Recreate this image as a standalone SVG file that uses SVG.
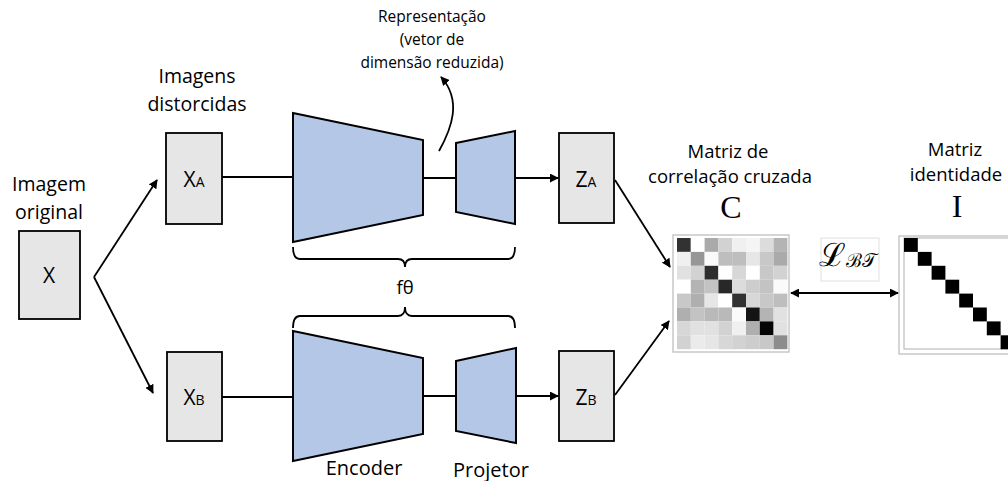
<svg xmlns="http://www.w3.org/2000/svg" width="1008" height="481" viewBox="0 0 1008 481">
<defs>
<marker id="ah" viewBox="0 0 10 10" refX="9" refY="5" markerWidth="5" markerHeight="5" orient="auto-start-reverse" markerUnits="strokeWidth">
<path d="M0,0 L10,5 L0,10 z" fill="#000"/>
</marker>
</defs>
<style>
.box{fill:#e6e6e6;stroke:#000;stroke-width:1.8}
.trap{fill:#b4c7e7;stroke:#000;stroke-width:2}
.ln{fill:none;stroke:#000;stroke-width:1.8}
.t{font-family:"Open Sans",Lato,sans-serif;fill:#000;text-anchor:middle}
.v{font-family:"Open Sans",Lato,sans-serif;fill:#000;text-anchor:middle;font-size:21px}
.v tspan{font-size:14px}
.s{font-family:"Liberation Serif",serif;fill:#000;text-anchor:middle}
</style>
<rect width="1008" height="481" fill="#fff"/>

<g id="labels">
<text class="t" x="49" y="191" font-size="19.5">Imagem</text>
<text class="t" x="49" y="219" font-size="19.5">original</text>
<text class="t" x="197" y="83" font-size="19.5">Imagens</text>
<text class="t" x="197" y="111" font-size="19.5">distorcidas</text>
<text class="t" x="432" y="22" font-size="15.5">Representação</text>
<text class="t" x="432" y="45" font-size="15.5">(vetor de</text>
<text class="t" x="432" y="68" font-size="15.5">dimensão reduzida)</text>
<text class="t" x="405" y="294" font-size="18.5">fθ</text>
<text class="t" x="364" y="475" font-size="20">Encoder</text>
<text class="t" x="491" y="477" font-size="20">Projetor</text>
<text class="t" x="728" y="158" font-size="18.5">Matriz de</text>
<text class="t" x="730" y="183" font-size="18.5">correlação cruzada</text>
<text class="s" x="731" y="218" font-size="32">C</text>
<text class="t" x="955" y="156" font-size="18.5">Matriz</text>
<text class="t" x="956" y="181" font-size="18.5">identidade</text>
<text class="s" x="957" y="217" font-size="32">I</text>
</g>

<g id="node-x">
<rect class="box" x="19" y="231" width="61" height="88"/>
<text class="v" x="49" y="283">X</text>
</g>
<g id="node-xa">
<rect class="box" x="166" y="133" width="56" height="91"/>
<text class="v" x="194" y="187">X<tspan>A</tspan></text>
</g>
<g id="node-xb">
<rect class="box" x="167" y="352" width="55" height="89"/>
<text class="v" x="194" y="405">X<tspan>B</tspan></text>
</g>
<g id="node-enc-a"><polygon class="trap" points="293,113 423,140 423,215 293,242"/></g>
<g id="node-proj-a"><polygon class="trap" points="456,143 515,131 515,224 456,212"/></g>
<g id="node-enc-b"><polygon class="trap" points="293,331 423,358 423,434 293,461"/></g>
<g id="node-proj-b"><polygon class="trap" points="456,361 516,348 516,443 456,431"/></g>
<g id="node-za">
<rect class="box" x="559" y="133" width="55" height="90"/>
<text class="v" x="586" y="187">Z<tspan>A</tspan></text>
</g>
<g id="node-zb">
<rect class="box" x="559" y="351" width="55" height="90"/>
<text class="v" x="586" y="405">Z<tspan>B</tspan></text>
</g>

<g id="node-c">
<rect x="673" y="235" width="116" height="117" fill="#fff" stroke="#c8c8c8" stroke-width="1.5"/>
<g transform="translate(677,238)">
<rect x="0" y="0" width="13.8" height="13.9" fill="rgb(50,50,50)"/><rect x="13.8" y="0" width="13.8" height="13.9" fill="rgb(255,255,255)"/><rect x="27.6" y="0" width="13.8" height="13.9" fill="rgb(170,170,170)"/><rect x="41.4" y="0" width="13.8" height="13.9" fill="rgb(210,210,210)"/><rect x="55.2" y="0" width="13.8" height="13.9" fill="rgb(240,240,240)"/><rect x="69" y="0" width="13.8" height="13.9" fill="rgb(245,245,245)"/><rect x="82.8" y="0" width="13.8" height="13.9" fill="rgb(220,220,220)"/><rect x="96.6" y="0" width="13.8" height="13.9" fill="rgb(180,180,180)"/>
<rect x="0" y="13.9" width="13.8" height="13.9" fill="rgb(240,240,240)"/><rect x="13.8" y="13.9" width="13.8" height="13.9" fill="rgb(150,150,150)"/><rect x="27.6" y="13.9" width="13.8" height="13.9" fill="rgb(250,250,250)"/><rect x="41.4" y="13.9" width="13.8" height="13.9" fill="rgb(190,190,190)"/><rect x="55.2" y="13.9" width="13.8" height="13.9" fill="rgb(190,190,190)"/><rect x="69" y="13.9" width="13.8" height="13.9" fill="rgb(230,230,230)"/><rect x="82.8" y="13.9" width="13.8" height="13.9" fill="rgb(200,200,200)"/><rect x="96.6" y="13.9" width="13.8" height="13.9" fill="rgb(170,170,170)"/>
<rect x="0" y="27.8" width="13.8" height="13.9" fill="rgb(225,225,225)"/><rect x="13.8" y="27.8" width="13.8" height="13.9" fill="rgb(210,210,210)"/><rect x="27.6" y="27.8" width="13.8" height="13.9" fill="rgb(45,45,45)"/><rect x="41.4" y="27.8" width="13.8" height="13.9" fill="rgb(255,255,255)"/><rect x="55.2" y="27.8" width="13.8" height="13.9" fill="rgb(215,215,215)"/><rect x="69" y="27.8" width="13.8" height="13.9" fill="rgb(255,255,255)"/><rect x="82.8" y="27.8" width="13.8" height="13.9" fill="rgb(200,200,200)"/><rect x="96.6" y="27.8" width="13.8" height="13.9" fill="rgb(210,210,210)"/>
<rect x="0" y="41.7" width="13.8" height="13.9" fill="rgb(255,255,255)"/><rect x="13.8" y="41.7" width="13.8" height="13.9" fill="rgb(180,180,180)"/><rect x="27.6" y="41.7" width="13.8" height="13.9" fill="rgb(195,195,195)"/><rect x="41.4" y="41.7" width="13.8" height="13.9" fill="rgb(40,40,40)"/><rect x="55.2" y="41.7" width="13.8" height="13.9" fill="rgb(220,220,220)"/><rect x="69" y="41.7" width="13.8" height="13.9" fill="rgb(205,205,205)"/><rect x="82.8" y="41.7" width="13.8" height="13.9" fill="rgb(195,195,195)"/><rect x="96.6" y="41.7" width="13.8" height="13.9" fill="rgb(250,250,250)"/>
<rect x="0" y="55.6" width="13.8" height="13.9" fill="rgb(200,200,200)"/><rect x="13.8" y="55.6" width="13.8" height="13.9" fill="rgb(175,175,175)"/><rect x="27.6" y="55.6" width="13.8" height="13.9" fill="rgb(230,230,230)"/><rect x="41.4" y="55.6" width="13.8" height="13.9" fill="rgb(255,255,255)"/><rect x="55.2" y="55.6" width="13.8" height="13.9" fill="rgb(50,50,50)"/><rect x="69" y="55.6" width="13.8" height="13.9" fill="rgb(215,215,215)"/><rect x="82.8" y="55.6" width="13.8" height="13.9" fill="rgb(200,200,200)"/><rect x="96.6" y="55.6" width="13.8" height="13.9" fill="rgb(190,190,190)"/>
<rect x="0" y="69.5" width="13.8" height="13.9" fill="rgb(175,175,175)"/><rect x="13.8" y="69.5" width="13.8" height="13.9" fill="rgb(195,195,195)"/><rect x="27.6" y="69.5" width="13.8" height="13.9" fill="rgb(185,185,185)"/><rect x="41.4" y="69.5" width="13.8" height="13.9" fill="rgb(185,185,185)"/><rect x="55.2" y="69.5" width="13.8" height="13.9" fill="rgb(250,250,250)"/><rect x="69" y="69.5" width="13.8" height="13.9" fill="rgb(20,20,20)"/><rect x="82.8" y="69.5" width="13.8" height="13.9" fill="rgb(180,180,180)"/><rect x="96.6" y="69.5" width="13.8" height="13.9" fill="rgb(225,225,225)"/>
<rect x="0" y="83.4" width="13.8" height="13.9" fill="rgb(215,215,215)"/><rect x="13.8" y="83.4" width="13.8" height="13.9" fill="rgb(225,225,225)"/><rect x="27.6" y="83.4" width="13.8" height="13.9" fill="rgb(225,225,225)"/><rect x="41.4" y="83.4" width="13.8" height="13.9" fill="rgb(210,210,210)"/><rect x="55.2" y="83.4" width="13.8" height="13.9" fill="rgb(240,240,240)"/><rect x="69" y="83.4" width="13.8" height="13.9" fill="rgb(175,175,175)"/><rect x="82.8" y="83.4" width="13.8" height="13.9" fill="rgb(5,5,5)"/><rect x="96.6" y="83.4" width="13.8" height="13.9" fill="rgb(225,225,225)"/>
<rect x="0" y="97.3" width="13.8" height="13.9" fill="rgb(210,210,210)"/><rect x="13.8" y="97.3" width="13.8" height="13.9" fill="rgb(235,235,235)"/><rect x="27.6" y="97.3" width="13.8" height="13.9" fill="rgb(230,230,230)"/><rect x="41.4" y="97.3" width="13.8" height="13.9" fill="rgb(215,215,215)"/><rect x="55.2" y="97.3" width="13.8" height="13.9" fill="rgb(210,210,210)"/><rect x="69" y="97.3" width="13.8" height="13.9" fill="rgb(205,205,205)"/><rect x="82.8" y="97.3" width="13.8" height="13.9" fill="rgb(200,200,200)"/><rect x="96.6" y="97.3" width="13.8" height="13.9" fill="rgb(140,140,140)"/>
</g>
</g>

<g id="node-i">
<rect x="899" y="236" width="120" height="118" fill="#fff" stroke="#c8c8c8" stroke-width="1.5"/>
<rect x="904" y="238" width="120" height="111" fill="none" stroke="#b0b0b0" stroke-width="1"/>
<g fill="#000">
<rect x="904" y="238" width="13.8" height="13.9"/>
<rect x="917.8" y="251.9" width="13.8" height="13.9"/>
<rect x="931.6" y="265.8" width="13.8" height="13.9"/>
<rect x="945.4" y="279.7" width="13.8" height="13.9"/>
<rect x="959.2" y="293.6" width="13.8" height="13.9"/>
<rect x="973" y="307.5" width="13.8" height="13.9"/>
<rect x="986.8" y="321.4" width="13.8" height="13.9"/>
<rect x="1000.6" y="335.3" width="13.8" height="13.9"/>
</g>
</g>

<g id="node-loss">
<rect x="821" y="238" width="58" height="43" fill="#fff" stroke="#e0e0e0" stroke-width="1"/>
<text x="848" y="266" font-family="DejaVu Serif,serif" font-size="32" text-anchor="middle">ℒ<tspan font-size="19" dy="1">ℬ𝒯</tspan></text>
</g>

<g id="connectors">
<path class="ln" d="M94,277 L157,180" marker-end="url(#ah)"/>
<path class="ln" d="M94,277 L153,393" marker-end="url(#ah)"/>
<path class="ln" d="M222,177 L293,177"/>
<path class="ln" d="M423,178 L456,178"/>
<path class="ln" d="M515,178 L558,178" marker-end="url(#ah)"/>
<path class="ln" d="M222,397 L293,397"/>
<path class="ln" d="M423,396 L456,396"/>
<path class="ln" d="M516,396 L558,396" marker-end="url(#ah)"/>
<path class="ln" d="M615,180 L670,267" marker-end="url(#ah)"/>
<path class="ln" d="M615,395 L669,321" marker-end="url(#ah)"/>
<path class="ln" d="M791,293 L898,293" marker-start="url(#ah)" marker-end="url(#ah)"/>
<path class="ln" d="M439,151 C452,128 462,100 441,77" marker-end="url(#ah)"/>
<path class="ln" d="M293,247 Q293,259 300,259 L398,259 Q405,259 405,267 Q405,259 412,259 L508,259 Q515,259 515,247"/>
<path class="ln" d="M293,328 Q293,316 300,316 L398,316 Q405,316 405,307 Q405,316 412,316 L508,316 Q515,316 515,328"/>
</g>
</svg>
